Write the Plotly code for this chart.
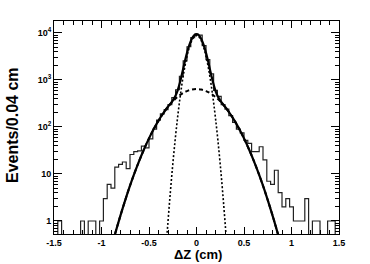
import plotly.graph_objects as go

# ---------------- data ----------------
# histogram: 75 bins of 0.04 cm from -1.5 to 1.5 (left edges), counts per bin
bin_edges_left = [round(-1.5 + 0.04 * i, 2) for i in range(75)]
counts = [
    0, 1, 0, 0, 0, 0, 0, 1, 0, 1,
    1, 0, 1, 3, 6, 5, 14, 16, 18, 13,
    26, 30, 31, 39, 36, 56,
    # -0.46 .. -0.02
    90, 140, 190, 235, 300, 420, 620, 1200, 2550, 5100, 8000,
    # centre bin [-0.02, 0.02]
    9300,
    # 0.02 .. 1.50
    9000, 5400, 2700, 1350, 600, 450, 300, 240, 175, 125,
    90, 75, 52, 45, 30, 30, 38, 20, 7, 6,
    12, 4, 2, 3, 2, 1, 1, 1, 3, 0,
    1, 1, 0, 0, 1, 1, 0,
]
hist_xmax = 1.5

# fitted total (solid)
total_x = [-0.95, -0.9, -0.85, -0.8, -0.75, -0.7, -0.65, -0.6, -0.55, -0.5,
           -0.45, -0.4, -0.35, -0.325, -0.3, -0.275, -0.25, -0.225, -0.2, -0.175,
           -0.15, -0.125, -0.1, -0.075, -0.05, -0.025, 0.0, 0.025, 0.05, 0.075,
           0.1, 0.125, 0.15, 0.175, 0.2, 0.225, 0.25, 0.275, 0.3, 0.325,
           0.35, 0.4, 0.45, 0.5, 0.55, 0.6, 0.65, 0.7, 0.75, 0.8,
           0.85, 0.9, 0.95]
total_y = [0.104, 0.255, 0.595, 1.32, 2.79, 5.63, 10.8, 19.75, 34.4, 57.2,
           90.4, 136.4, 196.0, 230.9, 269.2, 312.4, 365.6, 444.8, 588.4, 872.6,
           1417.5, 2360, 3779, 5586, 7458, 8897, 9440, 8897, 7458, 5586,
           3779, 2360, 1417.5, 872.6, 588.4, 444.8, 365.6, 312.4, 269.2, 230.9,
           196.0, 136.4, 90.4, 57.2, 34.4, 19.75, 10.8, 5.63, 2.79, 1.32,
           0.595, 0.255, 0.104]

# wide component (dashed)
wide_x = [-0.95, -0.9, -0.85, -0.8, -0.75, -0.7, -0.65, -0.6, -0.55, -0.5,
          -0.45, -0.4, -0.35, -0.3, -0.25, -0.2, -0.15, -0.1, -0.05, 0.0,
          0.05, 0.1, 0.15, 0.2, 0.25, 0.3, 0.35, 0.4, 0.45, 0.5,
          0.55, 0.6, 0.65, 0.7, 0.75, 0.8, 0.85, 0.9, 0.95]
wide_y = [0.104, 0.255, 0.595, 1.32, 2.79, 5.63, 10.8, 19.75, 34.4, 57.2,
          90.4, 136.4, 196.0, 268.2, 349.9, 434.8, 514.9, 581.1, 624.7, 640,
          624.7, 581.1, 514.9, 434.8, 349.9, 268.2, 196.0, 136.4, 90.4, 57.2,
          34.4, 19.75, 10.8, 5.63, 2.79, 1.32, 0.595, 0.255, 0.104]

# narrow component (dotted)
narrow_x = [-0.35, -0.325, -0.3, -0.275, -0.25, -0.225, -0.2, -0.175, -0.15, -0.125,
            -0.1, -0.075, -0.05, -0.025, 0.0, 0.025, 0.05, 0.075, 0.1, 0.125,
            0.15, 0.175, 0.2, 0.225, 0.25, 0.275, 0.3, 0.325, 0.35]
narrow_y = [0.036, 0.2, 0.973, 4.17, 15.74, 52.4, 153.6, 396.5, 902.6, 1810,
            3198, 4980, 6833, 8261, 8800, 8261, 6833, 4980, 3198, 1810,
            902.6, 396.5, 153.6, 52.4, 15.74, 4.17, 0.973, 0.2, 0.036]

x_tickvals = [-1.5, -1, -0.5, 0, 0.5, 1, 1.5]
x_ticktext = ["-1.5", "-1", "-0.5", "0", "0.5", "1", "1.5"]
y_tickvals = [1, 10, 100, 1000, 10000]
y_ticktext = ["1", "10", "10<sup>2</sup>", "10<sup>3</sup>", "10<sup>4</sup>"]

x_title = "ΔZ (cm)"
y_title = "Events/0.04 cm"

# ---------------- figure ----------------
FLOOR = 0.1  # empty bins drawn below the visible range on the log axis
hx = bin_edges_left + [hist_xmax]
hy = [c if c > 0 else FLOOR for c in counts]
hy = hy + [hy[-1]]

FONT = "Liberation Sans, Arial, Helvetica, sans-serif"

fig = go.Figure()
fig.add_trace(go.Scatter(x=hx, y=hy, mode="lines", line=dict(shape="hv", color="#222222", width=1.2),
                         hoverinfo="skip"))
fig.add_trace(go.Scatter(x=wide_x, y=wide_y, mode="lines",
                         line=dict(shape="spline", color="black", width=2, dash="4px,3px")))
fig.add_trace(go.Scatter(x=narrow_x, y=narrow_y, mode="lines",
                         line=dict(shape="spline", color="black", width=1.6, dash="2px,2px")))
fig.add_trace(go.Scatter(x=total_x, y=total_y, mode="lines",
                         line=dict(shape="spline", color="black", width=2.2)))

x_minor = [round(-1.5 + 0.1 * i, 2) for i in range(31)]
y_minor = [m * 10 ** e for e in range(-1, 5) for m in range(2, 10)]

fig.update_layout(
    width=370, height=264,
    margin=dict(l=54, r=31, t=21, b=30),
    paper_bgcolor="white", plot_bgcolor="white",
    showlegend=False,
    font=dict(family=FONT, color="black"),
    xaxis=dict(range=[-1.5, 1.5], tickmode="array", tickvals=x_tickvals, ticktext=x_ticktext,
               ticks="inside", ticklen=7, tickwidth=1, tickcolor="black",
               showline=True, linecolor="black", linewidth=1, mirror="ticks",
               showgrid=False, zeroline=False,
               tickfont=dict(size=9, family=FONT, weight="bold"),
               minor=dict(tickmode="array", tickvals=x_minor, ticks="inside", ticklen=4,
                          tickcolor="black", showgrid=False)),
    yaxis=dict(type="log", range=[-0.277, 4.255], tickmode="array", tickvals=y_tickvals,
               ticktext=y_ticktext,
               ticks="inside", ticklen=8, tickwidth=1, tickcolor="black",
               showline=True, linecolor="black", linewidth=1, mirror="ticks",
               showgrid=False, zeroline=False,
               tickfont=dict(size=9, family=FONT, weight="bold"),
               minor=dict(tickmode="array", tickvals=y_minor, ticks="inside", ticklen=4,
                          tickcolor="black", showgrid=False)),
    annotations=[
        dict(text=y_title, xref="paper", yref="paper", x=-0.145, y=0.51,
             xanchor="center", yanchor="middle", textangle=-90, showarrow=False,
             font=dict(size=16, family=FONT, weight="bold", color="black")),
        dict(text=x_title, xref="paper", yref="paper", x=0.505, y=-0.098,
             xanchor="center", yanchor="middle", showarrow=False,
             font=dict(size=13, family=FONT, weight="bold", color="black")),
    ],
)

# remove the default 8px page margin so the figure sits at the window's corner
fig.write_html("out.html", config={"displayModeBar": False},
               post_script="document.body.style.margin='0';")
